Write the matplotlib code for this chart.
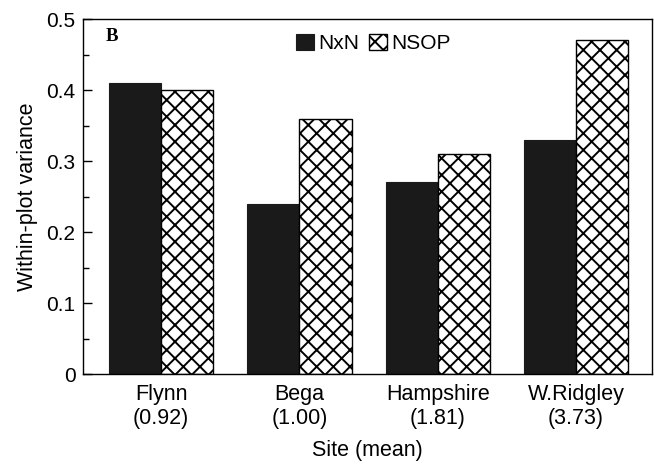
import numpy as np
import matplotlib
matplotlib.use("Agg")
import matplotlib.pyplot as plt
from matplotlib.ticker import MultipleLocator

plt.rcParams['font.family'] = ['Liberation Sans', 'DejaVu Sans']
plt.rcParams['hatch.linewidth'] = 1.4

# Data
sites = ["Flynn\n(0.92)", "Bega\n(1.00)", "Hampshire\n(1.81)", "W.Ridgley\n(3.73)"]
nxn = [0.41, 0.24, 0.27, 0.33]
nsop = [0.40, 0.36, 0.31, 0.47]

x = np.arange(len(sites))
width = 0.377

fig = plt.figure(figsize=(6.54, 4.66), dpi=100)
ax = fig.add_axes([0.127, 0.197, 0.870, 0.762])

ax.bar(x - width / 2, nxn, width, color='#1a1a1a', edgecolor='#1a1a1a',
       linewidth=0.8, label="NxN")
ax.bar(x + width / 2, nsop, width, color='white', edgecolor='black',
       hatch='xx', linewidth=1.0, label="NSOP")

ax.set_xlim(-0.565, 3.55)
ax.set_ylim(0, 0.5)
ax.set_xticks(x)
ax.set_xticklabels(sites, fontsize=15.5)
ax.tick_params(axis='x', length=0, pad=7)
ax.yaxis.set_minor_locator(MultipleLocator(0.05))
ax.set_yticks([0, 0.1, 0.2, 0.3, 0.4, 0.5])
ax.set_yticklabels(["0", "0.1", "0.2", "0.3", "0.4", "0.5"], fontsize=15)
ax.tick_params(axis='y', which='major', direction='in', length=6.5, width=1.0, pad=5.5)
ax.tick_params(axis='y', which='minor', direction='in', length=4.5, width=1.0)

for s in ax.spines.values():
    s.set_linewidth(1.0)

ax.set_xlabel("Site (mean)", fontsize=15.5, labelpad=8)
ax.set_ylabel("Within-plot variance", fontsize=15.5, labelpad=6)

ax.text(0.039, 0.938, "B", transform=ax.transAxes, fontsize=13.5,
        fontweight='bold', family='Liberation Serif', va='baseline', ha='left')

ax.legend(loc='upper center', bbox_to_anchor=(0.51, 1.0), frameon=False,
          fontsize=15, ncol=2, handlelength=0.85, handleheight=0.85,
          handletextpad=0.2, columnspacing=0.5, borderaxespad=0.3)

fig.savefig("out.png", dpi=100)
